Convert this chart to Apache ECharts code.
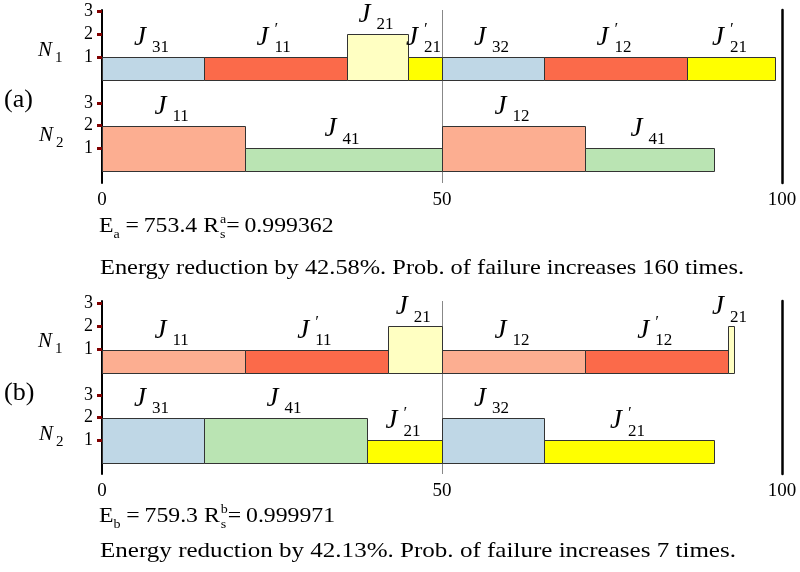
<!DOCTYPE html>
<html>
<head>
<meta charset="utf-8">
<script src="https://cdn.jsdelivr.net/npm/echarts@6/dist/echarts.min.js"></script>
<style>
  html, body { margin: 0; padding: 0; background: #fff; }
  #chart { width: 800px; height: 572px; }
</style>
</head>
<body>
<div id="chart"></div>
<script>
// Time axis ticks and processor level ticks
const timeTicks = [0, 50, 100];
const levelTicks = [1, 2, 3];

// Each task: [start, end, level, job index, replica flag]
const scheduleA_N1 = [
  [0, 15, 1, '31', 0],
  [15, 36, 1, '11', 1],
  [36, 45, 2, '21', 0],
  [45, 50, 1, '21', 1],
  [50, 65, 1, '32', 0],
  [65, 86, 1, '12', 1],
  [86, 99, 1, '21', 1]
];
const scheduleA_N2 = [
  [0, 21, 2, '11', 0],
  [21, 50, 1, '41', 0],
  [50, 71, 2, '12', 0],
  [71, 90, 1, '41', 0]
];
const scheduleB_N1 = [
  [0, 21, 1, '11', 0],
  [21, 42, 1, '11', 1],
  [42, 50, 2, '21', 0],
  [50, 71, 1, '12', 0],
  [71, 92, 1, '12', 1],
  [92, 93, 2, '21', 0]
];
const scheduleB_N2 = [
  [0, 15, 2, '31', 0],
  [15, 39, 2, '41', 0],
  [39, 50, 1, '21', 1],
  [50, 65, 2, '32', 0],
  [65, 90, 1, '21', 1]
];

// Summary figures
const energyA = 753.4, reliabilityA = '0.999362', reductionA = '42.58', failureA = 160;
const energyB = 759.3, reliabilityB = '0.999971', reductionB = '42.13', failureB = 7;

const FAMILY = '"Liberation Serif", "Times New Roman", serif';
const TEXT_STRETCH = 1.1;

function taskColor(job, replica) {
  switch (job[0]) {
    case '1': return replica ? '#FB6A4A' : '#FCAE91';
    case '2': return replica ? '#FFFF00' : '#FFFFC2';
    case '3': return '#BFD7E6';
    default: return '#BAE4B3';
  }
}

function makeRenderer(tasks) {
  return function (params, api) {
    const t = tasks[params.dataIndex];
    const p0 = api.coord([t[0], t[2]]);
    const p1 = api.coord([t[1], 0]);
    const x0 = Math.round(p0[0]), x1 = Math.round(p1[0]);
    const y0 = Math.round(p0[1]), y1 = Math.round(p1[1]);
    const cx = (p0[0] + p1[0]) / 2;
    const top = p0[1];
    const children = [
      {
        type: 'rect',
        shape: { x: x0 + 0.5, y: y0 + 0.5, width: x1 - x0, height: y1 - y0 },
        style: { fill: taskColor(t[3], t[4]), stroke: '#333', lineWidth: 1 }
      },
      {
        type: 'text', x: cx - 7, y: top - 19,
        style: { text: 'J', fontSize: 27, fontStyle: 'italic', fontFamily: FAMILY, fill: '#000', align: 'right', verticalAlign: 'middle' }
      },
      {
        type: 'text', x: cx - 1, y: top - 9,
        style: { text: t[3], fontSize: 17, fontFamily: FAMILY, fill: '#000', align: 'left', verticalAlign: 'middle' }
      }
    ];
    if (t[4]) {
      children.push({
        type: 'text', x: cx - 2, y: top - 27,
        style: { text: '\u2032', fontSize: 17, fontStyle: 'italic', fontFamily: FAMILY, fill: '#000', align: 'left', verticalAlign: 'middle' }
      });
    }
    return { type: 'group', children: children };
  };
}

// Lays out a line of text with sub/superscripts
const measureCtx = document.createElement('canvas').getContext('2d');
function textWidth(t, size, italic) {
  measureCtx.font = (italic ? 'italic ' : '') + size + 'px ' + FAMILY;
  return measureCtx.measureText(t).width;
}
function mathText(left, baseline, pieces, sx) {
  let x = 0, lastX = 0;
  const children = [];
  pieces.forEach(function (p) {
    const px = p.stack ? lastX : x;
    const w = textWidth(p.t, p.size, p.italic);
    children.push({
      type: 'text', x: px, y: -(p.rise || 0) - 0.305 * p.size,
      style: { text: p.t, fontSize: p.size, fontFamily: FAMILY, fontStyle: p.italic ? 'italic' : 'normal', fill: '#000', align: 'left', verticalAlign: 'middle' }
    });
    if (p.stack) { x = Math.max(x, px + w + (p.gap || 0)); }
    else { lastX = x; x += w + (p.gap || 0); }
  });
  return { type: 'group', x: left, y: baseline, scaleX: sx || 1, children: children };
}

function nodeLabel(left, baseline, idx) {
  return mathText(left, baseline, [
    { t: 'N', size: 21, italic: true, gap: 3 },
    { t: String(idx), size: 15, rise: -6 }
  ]);
}

function summaryLine(left, baseline, sub, energy, rel) {
  return mathText(left, baseline, [
    { t: 'E', size: 22 },
    { t: sub, size: 13, rise: -6, gap: 1 },
    { t: '\u2009=\u2009' + energy.toFixed(1) + ' R', size: 22, gap: 1 },
    { t: 's', size: 13, rise: -6 },
    { t: sub, size: 13, rise: 9, stack: true },
    { t: '=\u2009' + rel, size: 22 }
  ], 1.08);
}

// A plain sentence, stretched to span a given width
function plainLine(left, baseline, text, span) {
  const w = textWidth(text, 22, false);
  return mathText(left, baseline, [{ t: text, size: 22 }], span / w);
}

const plotLeft = 102, plotWidth = 680;
const panels = [
  { frameTop: 10, frameH: 173, rows: [[11, 69, scheduleA_N1], [103, 68, scheduleA_N2]] },
  { frameTop: 301, frameH: 173, rows: [[303, 70, scheduleB_N1], [395, 68, scheduleB_N2]] }
];

const grid = [], xAxis = [], yAxis = [], series = [];
panels.forEach(function (pn) {
  const gi = grid.length;
  grid.push({ left: plotLeft, width: plotWidth, top: pn.frameTop, height: pn.frameH });
  xAxis.push({
    type: 'value', gridIndex: gi, min: 0, max: 100, interval: 50,
    axisLine: { show: false }, axisTick: { show: false },
    axisLabel: { fontSize: 19, fontFamily: FAMILY, color: '#000', margin: 8, customValues: timeTicks },
    splitLine: { show: true, lineStyle: { color: '#888', width: 1 } }
  });
  yAxis.push({
    type: 'value', gridIndex: gi, min: 0, max: 1, position: 'left',
    axisLine: { show: true, lineStyle: { color: '#000', width: 2 } },
    axisTick: { show: false }, axisLabel: { show: false }, splitLine: { show: false }
  });
  yAxis.push({
    type: 'value', gridIndex: gi, min: 0, max: 1, position: 'right',
    axisLine: { show: true, lineStyle: { color: '#000', width: 2.5 } },
    axisTick: { show: false }, axisLabel: { show: false }, splitLine: { show: false }
  });
  pn.rows.forEach(function (r) {
    const ri = grid.length;
    grid.push({ left: plotLeft, width: plotWidth, top: r[0], height: r[1] });
    xAxis.push({ type: 'value', gridIndex: ri, min: 0, max: 100, show: false });
    const yi = yAxis.length;
    yAxis.push({
      type: 'value', gridIndex: ri, min: 0, max: 3, interval: 1,
      axisLine: { show: false },
      axisTick: { show: true, length: 5, customValues: levelTicks, lineStyle: { color: '#800000', width: 3 } },
      axisLabel: { fontSize: 18, fontFamily: FAMILY, color: '#000', margin: 9, customValues: levelTicks },
      splitLine: { show: false }
    });
    const tasks = r[2];
    series.push({
      type: 'custom',
      xAxisIndex: ri, yAxisIndex: yi,
      data: tasks.map(function (t) { return [t[0], t[1], t[2]]; }),
      encode: { x: [0, 1], y: 2 },
      renderItem: makeRenderer(tasks),
      silent: true
    });
  });
});

const graphic = [
  { type: 'text', left: 4, top: 87, style: { text: '(a)', fontSize: 26, fontFamily: FAMILY, fill: '#000' } },
  { type: 'text', left: 4, top: 380, style: { text: '(b)', fontSize: 26, fontFamily: FAMILY, fill: '#000' } },
  nodeLabel(38, 57, 1),
  nodeLabel(39, 142, 2),
  nodeLabel(38, 348, 1),
  nodeLabel(39, 441, 2),
  summaryLine(99, 233, 'a', energyA, reliabilityA),
  plainLine(100, 275, 'Energy reduction by ' + reductionA + '%. Prob. of failure increases ' + failureA + ' times.', 644),
  summaryLine(99, 523, 'b', energyB, reliabilityB),
  plainLine(100, 558, 'Energy reduction by ' + reductionB + '%. Prob. of failure increases ' + failureB + ' times.', 636)
];

const chart = echarts.init(document.getElementById('chart'), null, { renderer: 'canvas' });
chart.setOption({
  animation: false,
  backgroundColor: '#fff',
  grid: grid,
  xAxis: xAxis,
  yAxis: yAxis,
  series: series,
  graphic: graphic
});
</script>
</body>
</html>
